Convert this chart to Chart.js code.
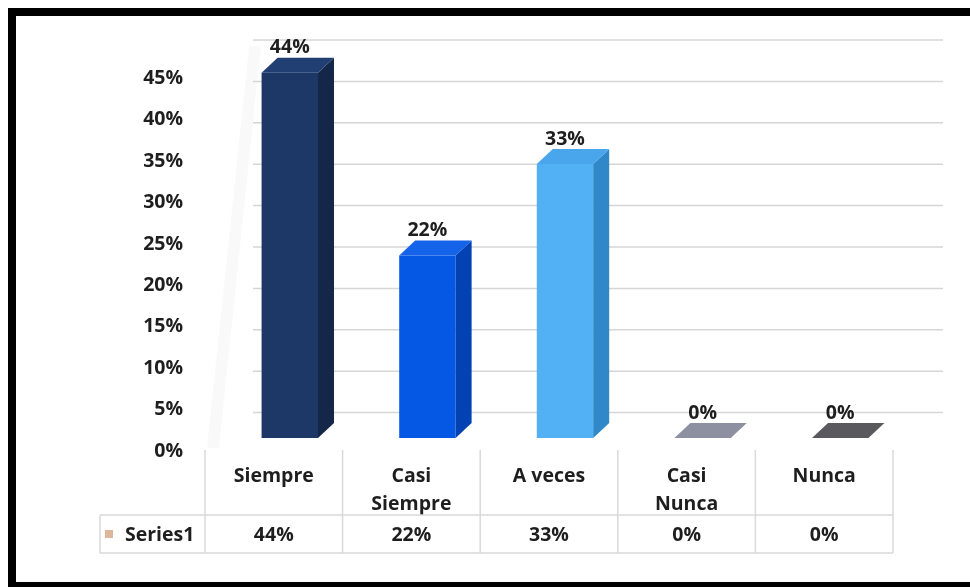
<!DOCTYPE html>
<html>
<head>
<meta charset="utf-8">
<script src="https://cdn.jsdelivr.net/npm/chart.js"></script>
<style>
    body { margin: 0; background: #fff; }
    #wrap { position: relative; width: 970px; height: 587px; overflow: hidden; }
    #myChart { position: absolute; left: 0; top: 0; }
    #frame {
        position: absolute; left: 8px; top: 8px; width: 970px; height: 566px;
        border-left: 8px solid #000; border-top: 8px solid #000; border-bottom: 8px solid #000;
        pointer-events: none;
    }
</style>
</head>
<body>
<div id="wrap">
    <canvas id="myChart" width="970" height="587"></canvas>
    <div id="frame"></div>
</div>
<script>
const categories = ['Siempre', ['Casi', 'Siempre'], 'A veces', ['Casi', 'Nunca'], 'Nunca'];
const seriesName = 'Series1';
const values = [44, 22, 33, 0, 0];
const gridValues = [0, 5, 10, 15, 20, 25, 30, 35, 40, 45, 50];
const yTickLabels = ['0%', '5%', '10%', '15%', '20%', '25%', '30%', '35%', '40%', '45%'];

// face colours for each column: front, right side, top
const frontColors = ['#1d3766', '#0558e4', '#52b1f4', '#8c90a0', '#5a5a5e'];
const sideColors = ['#142748', '#0342b2', '#3088c9', '#7a7e8c', '#4a4a4e'];
const topColors = ['#213f72', '#1463e8', '#4aa6ec', '#8c90a0', '#5a5a5e'];

const FONT = { family: 'Open Sans', weight: 'bold', size: 19.5 };
const TEXT = '#1e1e1e';
const DX = 16, DY = 15;   // depth of the columns

const bar3d = {
    id: 'bar3d',
    beforeDatasetsDraw(chart) {
        const ctx = chart.ctx;
        const area = chart.chartArea;
        const ys = chart.scales.yBack;
        const left = area.left + 32, right = area.right + 34;

        // faint left wall edge
        ctx.save();
        ctx.strokeStyle = 'rgba(0,0,0,0.022)';
        ctx.lineWidth = 12;
        ctx.beginPath();
        ctx.moveTo(area.left - 8, area.bottom - 6);
        ctx.lineTo(left + 2, area.top + 6);
        ctx.stroke();

        // back wall grid lines
        ctx.strokeStyle = '#d6d6d6';
        ctx.lineWidth = 1.5;
        gridValues.forEach(v => {
            if (v === 0) return;
            const y = ys.getPixelForValue(v);
            ctx.beginPath();
            ctx.moveTo(left, y);
            ctx.lineTo(right, y);
            ctx.stroke();
        });
        ctx.restore();
    },
    afterDatasetsDraw(chart) {
        const ctx = chart.ctx;
        const meta = chart.getDatasetMeta(0);
        ctx.save();
        meta.data.forEach((bar, i) => {
            const { x, y, base, width } = bar.getProps(['x', 'y', 'base', 'width'], true);
            const l = x - width / 2, r = x + width / 2;

            if (base - y > 0.5) {
                ctx.fillStyle = sideColors[i];
                ctx.beginPath();
                ctx.moveTo(r, y);
                ctx.lineTo(r + DX, y - DY);
                ctx.lineTo(r + DX, base - DY);
                ctx.lineTo(r, base);
                ctx.closePath();
                ctx.fill();
            }

            ctx.fillStyle = topColors[i];
            ctx.beginPath();
            ctx.moveTo(l, y);
            ctx.lineTo(l + DX, y - DY);
            ctx.lineTo(r + DX, y - DY);
            ctx.lineTo(r, y);
            ctx.closePath();
            ctx.fill();

            ctx.fillStyle = TEXT;
            ctx.font = `${FONT.weight} ${FONT.size}px ${FONT.family}`;
            ctx.textAlign = 'center';
            ctx.textBaseline = 'middle';
            ctx.fillText(values[i] + '%', x, y - 25);
        });
        ctx.restore();
    }
};

// data table under the columns
const dataTable = {
    id: 'dataTable',
    afterDraw(chart) {
        const ctx = chart.ctx;
        const xs = chart.scales.x;
        const step = xs.getPixelForTick(1) - xs.getPixelForTick(0);
        const tableLeft = xs.getPixelForTick(0) - 16 - step / 2;
        const colLeft = i => tableLeft + i * step;
        const tableRight = colLeft(values.length);
        const headTop = 450, rowTop = 515, rowBottom = 553, keyLeft = 100;

        ctx.save();
        ctx.strokeStyle = '#d9d9d9';
        ctx.lineWidth = 1.5;
        ctx.beginPath();
        for (let i = 0; i <= values.length; i++) {
            const x = colLeft(i);
            ctx.moveTo(x, headTop);
            ctx.lineTo(x, rowBottom);
        }
        ctx.moveTo(keyLeft, rowTop);
        ctx.lineTo(keyLeft, rowBottom);
        ctx.moveTo(keyLeft, rowTop);
        ctx.lineTo(tableRight, rowTop);
        ctx.moveTo(keyLeft, rowBottom);
        ctx.lineTo(tableRight, rowBottom);
        ctx.stroke();

        const rowMid = (rowTop + rowBottom) / 2;
        ctx.fillStyle = '#dcb79c';
        ctx.fillRect(keyLeft + 5, rowMid - 4, 8, 8);

        ctx.fillStyle = TEXT;
        ctx.font = `${FONT.weight} ${FONT.size}px ${FONT.family}`;
        ctx.textBaseline = 'middle';
        ctx.textAlign = 'left';
        ctx.fillText(seriesName, keyLeft + 25, rowMid + 1);
        ctx.textAlign = 'center';
        values.forEach((v, i) => {
            ctx.fillText(v + '%', colLeft(i) + step / 2, rowMid + 1);
        });
        ctx.restore();
    }
};

new Chart(document.getElementById('myChart'), {
    type: 'bar',
    data: {
        labels: categories,
        datasets: [{
            label: seriesName,
            data: values,
            backgroundColor: frontColors,
            borderWidth: 0,
            yAxisID: 'y',
            barPercentage: 0.41,
            categoryPercentage: 1
        }]
    },
    options: {
        responsive: false,
        animation: false,
        layout: { padding: { left: 100, top: 40, right: 61, bottom: 0 } },
        plugins: {
            legend: { display: false },
            tooltip: { enabled: false }
        },
        scales: {
            x: {
                grid: { display: false, drawTicks: false },
                border: { display: false },
                afterFit: scale => { scale.height = 133; },
                ticks: {
                    color: TEXT,
                    font: { ...FONT, lineHeight: 1.45 },
                    labelOffset: -16,
                    padding: 8,
                    maxRotation: 0,
                    autoSkip: false
                }
            },
            y: {
                display: false,
                min: -1.93,
                max: 47.95
            },
            yBack: {
                position: 'left',
                min: 0,
                max: 50,
                grid: { display: false, drawTicks: false },
                border: { display: false },
                afterFit: scale => {
                    scale.width = 121;
                    scale.paddingTop = 0;
                    scale.paddingBottom = 0;
                },
                afterBuildTicks: scale => { scale.ticks = gridValues.map(v => ({ value: v })); },
                ticks: {
                    color: TEXT,
                    font: FONT,
                    padding: 38,
                    labelOffset: -3,
                    callback: (v, i) => yTickLabels[i] || ''
                }
            }
        }
    },
    plugins: [bar3d, dataTable]
});
</script>
</body>
</html>
